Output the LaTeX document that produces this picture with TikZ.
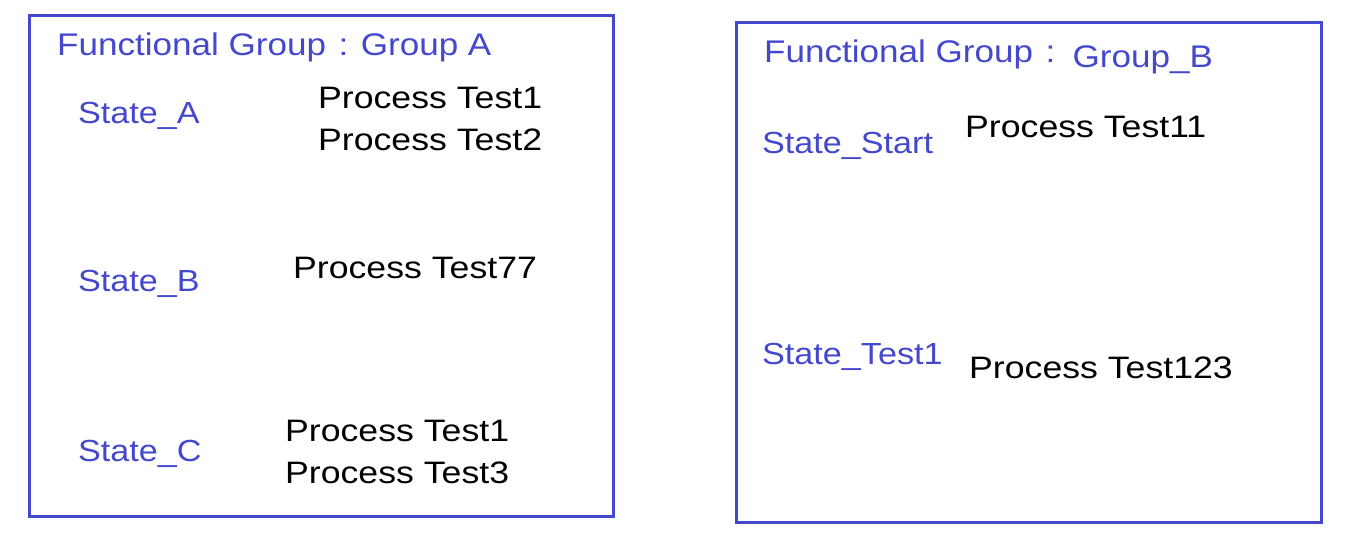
\documentclass[tikz,border=0pt]{standalone}
\usepackage{fontspec}
\setmainfont{Liberation Sans}
\newfontfamily\bluefont[FakeStretch=1.12]{Liberation Sans}
\newfontfamily\blackfont[FakeStretch=1.15]{Liberation Sans}
\definecolor{fgblue}{RGB}{68,72,204}
\begin{document}
\begin{tikzpicture}[x=1pt,y=-1pt,
  grp/.style={draw=fgblue,line width=2.6pt},
  lbl/.style={anchor=base west,inner sep=0pt,text=fgblue,font=\bluefont\fontsize{30.5}{33}\selectfont},
  ttl/.style={lbl,font=\bluefont\fontsize{31.3}{33}\selectfont},
  proc/.style={anchor=base west,inner sep=0pt,align=left,text=black,font=\blackfont\fontsize{31}{42}\selectfont}]
\useasboundingbox (0,0) rectangle (1345,553);
\node[grp,minimum width=584pt,minimum height=501pt,anchor=north west,inner sep=0pt] (boxA) at (28,14) {};
\node[grp,minimum width=585pt,minimum height=500pt,anchor=north west,inner sep=0pt] (boxB) at (735,21) {};
\node[ttl] (titleA) at (57,56) {Functional Group\hspace{0.4em}:\hspace{0.4em}Group A};
\node[lbl] (stA) at (78,124) {State\_A};
\node[proc] (pA) at (318,151) {Process Test1\\Process Test2};
\node[lbl] (stB) at (78,292) {State\_B};
\node[proc] (pB) at (293,279) {Process Test77};
\node[lbl] (stC) at (78,461) {State\_C};
\node[proc] (pC) at (285,483) {Process Test1\\Process Test3};
\node[ttl] (titleB) at (764,63) {Functional Group\hspace{0.4em}:\hspace{0.55em}\raisebox{-5pt}{Group\_B}};
\node[lbl] (stS) at (762,154) {State\_Start};
\node[proc] (pS) at (965,138) {Process Test11};
\node[lbl] (stT) at (762,365) {State\_Test1};
\node[proc] (pT) at (969,379) {Process Test123};
\end{tikzpicture}
\end{document}
